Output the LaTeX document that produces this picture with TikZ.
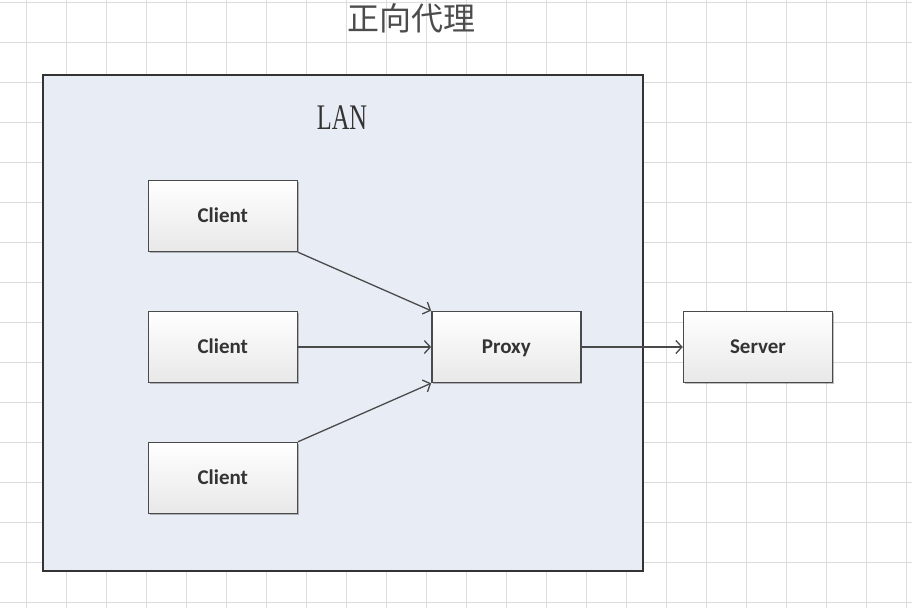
\documentclass[tikz,border=0pt]{standalone}
\usepackage{fontspec}
\setmainfont{Liberation Serif}
\setsansfont{Carlito}
\newfontfamily\cjk{Noto Sans CJK SC}
\usetikzlibrary{shadows,arrows.meta}
\definecolor{lanfill}{HTML}{E8ECF4}
\definecolor{gridgray}{HTML}{DCDCDC}
\definecolor{edgegray}{HTML}{4A4A4A}
\tikzset{
  gridline/.style={draw=gridgray, line width=1.4pt},
  lanbox/.style={draw=black!80, line width=2pt, fill=lanfill, minimum width=600pt, minimum height=495.5pt, inner sep=0pt},
  box/.style={draw=edgegray, line width=1.5pt, top color=white, bottom color=black!9,
    minimum width=149pt, minimum height=71pt, inner sep=0pt, text=black!80,
    text height=13.5pt, text depth=0pt,
    font=\sffamily\bfseries\fontsize{21}{24}\selectfont,
    drop shadow={shadow xshift=1.5pt, shadow yshift=-1.5pt, opacity=0.25, fill=black}},
  link/.style={draw=edgegray, line width=1.3pt, -{Straight Barb[length=6pt,width=13pt]}},
}
\begin{document}
\begin{tikzpicture}[x=1pt,y=-1pt]
    \useasboundingbox (0,0) rectangle (912,608);
    % background grid
    \foreach \x in {0,...,22} {
        \draw[gridline] (26.7+\x*40,0) -- (26.7+\x*40,608);};
    \foreach \y in {0,...,15} {
        \draw[gridline] (0,2.7+\y*40) -- (912,2.7+\y*40);};

\node[font=\cjk\fontsize{32}{36}\selectfont, text=black!70] (title) at (411,18) {正向代理};
\node[lanbox] (lan) at (342.5,322.75) {};
\node[font=\fontsize{36}{40}\selectfont, text=black!80, xscale=0.68] (lanlabel) at (342,118) {LAN};

    % clients, proxy and server
    \foreach \y [count=\c] in {216,347,478} {
        \node[box] (client\c) at (222.8,\y) {Client};};
\node[box] (proxy) at (506.4,347) {Proxy};
\node[box] (server) at (758,347) {Server};

\draw[link] (client1.south east) -- (proxy.north west);
\draw[link] (client2) -- (proxy);
\draw[link] (client3.north east) -- (proxy.south west);
\draw[link] (proxy) -- (server);
\end{tikzpicture}
\end{document}
